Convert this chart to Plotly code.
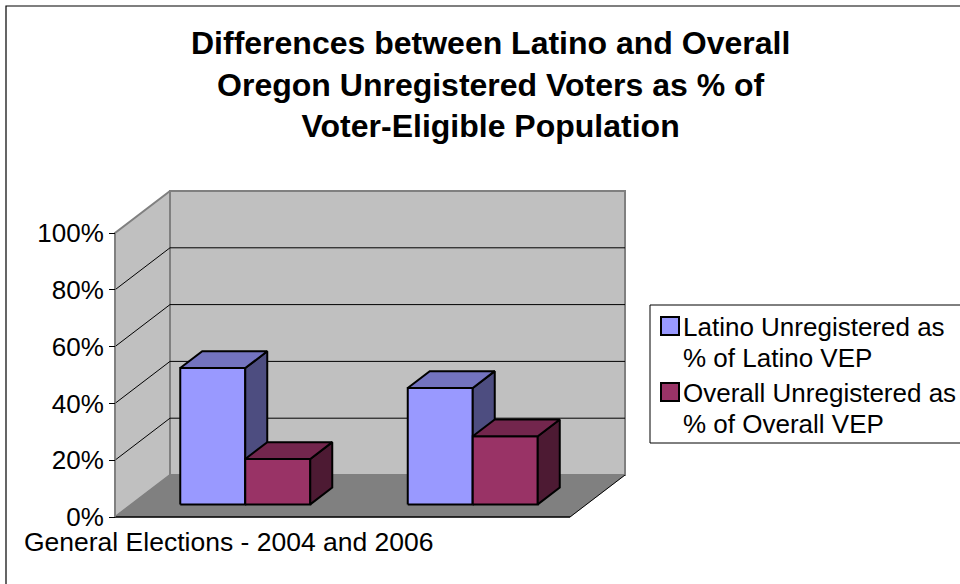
import textwrap
import plotly.graph_objects as go

# ---------------- data ----------------
categories = ["General Elections - 2004 and 2006", ""]
series_names = ["Latino Unregistered as % of Latino VEP",
                "Overall Unregistered as % of Overall VEP"]
latino_pct = [48, 41]
overall_pct = [16, 24]
y_ticks = [0, 20, 40, 60, 80, 100]
title_lines = ["Differences between Latino and Overall",
               "Oregon Unregistered Voters as % of",
               "Voter-Eligible Population"]

# ---------------- styles / geometry ----------------
front_colors = ["#9999FF", "#993366"]
top_colors = ["#7373BF", "#73264D"]
side_colors = ["#4D4D80", "#4D1A33"]
WALL = "#C0C0C0"
FLOOR = "#808080"
EDGE = "#808080"
FONT = "Liberation Sans, Arial, sans-serif"

W, H = 960, 584
PX_PER_Y = 2.84          # pixels per percentage point
Y0_PX, X0_PX = 517, 115  # pixel of origin (front-left-bottom corner)
PLOT_L, PLOT_R, PLOT_T, PLOT_B = 105, 635, 181, 527

FLOOR_W = 455            # front floor width (x units = px)
DX = 55                  # depth offset, x units
DY = 42 / PX_PER_Y       # depth offset, y units
GAP = 1.5                # gap width as multiple of bar width
D_FRONT, D_BACK = 0.3, 0.7

x_range = [PLOT_L - X0_PX, PLOT_R - X0_PX]
y_range = [(Y0_PX - PLOT_B) / PX_PER_Y, (Y0_PX - PLOT_T) / PX_PER_Y]


def pxx(px):
    return (px - PLOT_L) / (PLOT_R - PLOT_L)


def pxy(py):
    return (PLOT_B - py) / (PLOT_B - PLOT_T)


fig = go.Figure()


def poly(xs, ys, fill, line_color, line_width):
    fig.add_trace(go.Scatter(
        x=list(xs) + [xs[0]], y=list(ys) + [ys[0]], mode="lines",
        fill="toself" if fill else None, fillcolor=fill,
        line=dict(color=line_color, width=line_width),
        hoverinfo="skip", showlegend=False))


def line(xs, ys, color, width):
    fig.add_trace(go.Scatter(x=xs, y=ys, mode="lines",
                             line=dict(color=color, width=width),
                             hoverinfo="skip", showlegend=False))


top = y_ticks[-1]
# side wall
poly([0, DX, DX, 0], [0, DY, top + DY, top], WALL, EDGE, 2)
# back wall
poly([DX, FLOOR_W + DX, FLOOR_W + DX, DX],
     [DY, DY, top + DY, top + DY], WALL, EDGE, 2)
# gridlines
for v in y_ticks[1:-1]:
    line([0, DX, FLOOR_W + DX], [v, v + DY, v + DY], "black", 1)
# floor
poly([0, FLOOR_W, FLOOR_W + DX, DX], [0, 0, DY, DY], FLOOR, FLOOR, 0.5)
line([0, FLOOR_W], [0, 0], "black", 1.5)
line([FLOOR_W, FLOOR_W + DX], [0, DY], "black", 1)
line([0, 0], [0, top], EDGE, 1.5)

# bars
series = [latino_pct, overall_pct]
n_cat = len(categories)
cat_w = FLOOR_W / n_cat
bw = cat_w / (len(series) + GAP)
ax, ay = D_FRONT * DX, D_FRONT * DY
bx, by = D_BACK * DX, D_BACK * DY
cat_centers = []
for i in range(n_cat):
    start = i * cat_w + GAP * bw / 2
    cat_centers.append(i * cat_w + cat_w / 2)
    for j, vals in enumerate(series):
        v = vals[i]
        x0 = start + j * bw
        x1 = x0 + bw
        # front
        poly([x0 + ax, x1 + ax, x1 + ax, x0 + ax],
             [ay, ay, v + ay, v + ay], front_colors[j], "black", 2)
        # side
        poly([x1 + ax, x1 + bx, x1 + bx, x1 + ax],
             [ay, by, v + by, v + ay], side_colors[j], "black", 2)
        # top
        poly([x0 + ax, x1 + ax, x1 + bx, x0 + bx],
             [v + ay, v + ay, v + by, v + by], top_colors[j], "black", 2)

shapes = []
annotations = []
# chart border
shapes.append(dict(type="rect", xref="paper", yref="paper",
                   x0=pxx(6), x1=pxx(975), y0=pxy(590), y1=pxy(6),
                   line=dict(color="black", width=1.2), fillcolor="rgba(0,0,0,0)",
                   layer="below"))

# title
annotations.append(dict(text="<b>" + "<br>".join(title_lines) + "</b>",
                        xref="paper", yref="paper", x=pxx(490), y=pxy(85),
                        xanchor="center", yanchor="middle", showarrow=False,
                        font=dict(family=FONT, size=32, color="black")))

# legend
LEG_L, LEG_T, LEG_B = 650, 305, 443
shapes.append(dict(type="rect", xref="paper", yref="paper",
                   x0=pxx(LEG_L), x1=pxx(980), y0=pxy(LEG_B), y1=pxy(LEG_T),
                   line=dict(color="black", width=1), fillcolor="white"))
entry_y = [326, 392]
for j, name in enumerate(series_names):
    cy = entry_y[j]
    shapes.append(dict(type="rect", xref="paper", yref="paper",
                       x0=pxx(661), x1=pxx(679), y0=pxy(cy + 9), y1=pxy(cy - 9),
                       line=dict(color="black", width=2),
                       fillcolor=front_colors[j]))
    for k, ln in enumerate(textwrap.wrap(name, 23)):
        annotations.append(dict(text=ln, xref="paper", yref="paper",
                                x=pxx(681), y=pxy(cy + 1 + 31 * k),
                                xanchor="left", yanchor="middle",
                                showarrow=False,
                                font=dict(family=FONT, size=26, color="black")))

fig.update_layout(
    width=W, height=H,
    margin=dict(l=PLOT_L, r=W - PLOT_R, t=PLOT_T, b=H - PLOT_B, pad=0,
                autoexpand=False),
    paper_bgcolor="white", plot_bgcolor="rgba(0,0,0,0)",
    showlegend=False,
    shapes=shapes, annotations=annotations,
    xaxis=dict(range=x_range, showgrid=False, zeroline=False, showline=False,
               anchor="free", position=pxy(523),
               tickmode="array", tickvals=cat_centers, ticktext=categories,
               ticks="", tickfont=dict(family=FONT, size=26.5, color="black"),
               automargin=False, fixedrange=True),
    yaxis=dict(range=y_range, showgrid=False, zeroline=False, showline=False,
               anchor="free", position=pxx(X0_PX),
               tickmode="array", tickvals=y_ticks,
               ticktext=[f"{t}%" for t in y_ticks],
               ticks="outside", ticklen=6, tickcolor="black", tickwidth=1,
               tickfont=dict(family=FONT, size=26, color="black"),
               automargin=False, fixedrange=True),
)

fig.write_html("out.html")
